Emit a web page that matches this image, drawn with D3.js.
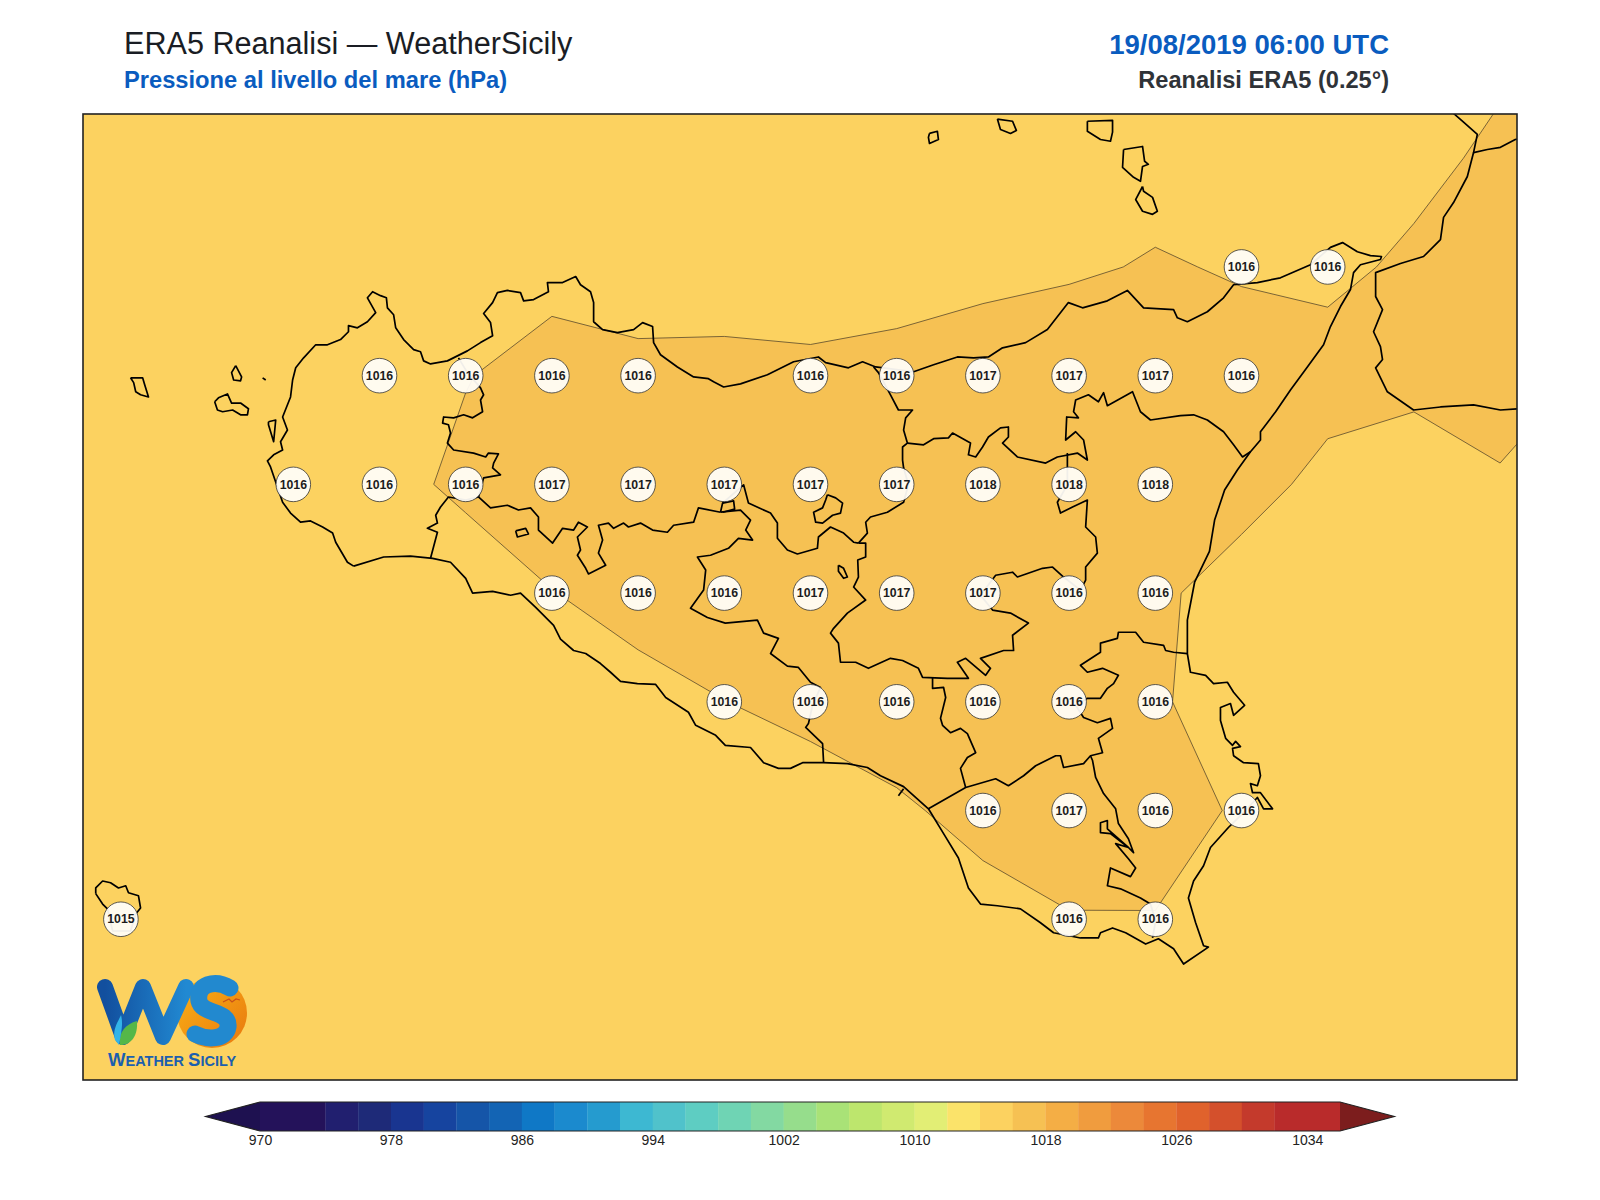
<!DOCTYPE html>
<html>
<head>
<meta charset="utf-8">
<script src="https://cdn.jsdelivr.net/npm/d3@7"></script>
<style>
html, body { margin: 0; padding: 0; background: #fff; }
svg { display: block; }
text { font-family: "Liberation Sans", Arial, sans-serif; }
</style>
</head>
<body>
<svg id="chart" width="1600" height="1200"></svg>
<script>
// pressure on the 0.25 degree grid, hPa, north to south
const gridLons = [11.75, 12, 12.25, 12.5, 12.75, 13, 13.25, 13.5, 13.75, 14, 14.25, 14.5, 14.75, 15, 15.25, 15.5, 15.75, 16, 16.25]
const gridLats = [38.75, 38.5, 38.25, 38, 37.75, 37.5, 37.25, 37, 36.75, 36.5, 36.25]
const row0 = [1015.2, 1015.2, 1015.2, 1015.2, 1015.2, 1015.2, 1015.2, 1015.2, 1015.3, 1015.3, 1015.3, 1015.3, 1015.3, 1015.4, 1015.5, 1015.6, 1015.6, 1015.8, 1016.1]
const row1 = [1015.3, 1015.3, 1015.3, 1015.3, 1015.3, 1015.3, 1015.3, 1015.3, 1015.3, 1015.3, 1015.4, 1015.5, 1015.6, 1015.72, 1015.7, 1015.65, 1015.73, 1016.2, 1016.4]
const row2 = [1015.4, 1015.4, 1015.4, 1015.5, 1015.5, 1015.6, 1015.75, 1015.42, 1015.38, 1014.88, 1015.41, 1015.72, 1015.895, 1016.062, 1015.936, 1015.766, 1016.18, 1016.5, 1016.6]
const row3 = [1015.4, 1015.5, 1015.55, 1015.6, 1015.8, 1015.967, 1016.3, 1016.3, 1016.35, 1016.45, 1016.45, 1016.55, 1016.55, 1016.8, 1016.29, 1016.398, 1016.25, 1016.45, 1015.95]
const row4 = [1015.4, 1015.5, 1015.5, 1015.55, 1015.7, 1016.177, 1016.6, 1016.7, 1016.8, 1016.9, 1017.2, 1017.6, 1017.7, 1017.6, 1016.398, 1015.712, 1015.5, 1015.89, 1015.8]
const row5 = [1015.3, 1015.4, 1015.4, 1015.4, 1015.45, 1015.5, 1015.977, 1016.36, 1016.4, 1016.7, 1016.8, 1016.7, 1016.45, 1016.2, 1015.533, 1015.4, 1015.4, 1015.5, 1015.6]
const row6 = [1015.3, 1015.4, 1015.4, 1015.4, 1015.4, 1015.45, 1015.5, 1015.67, 1015.992, 1016.19, 1016.3, 1016.35, 1016.45, 1016.1, 1015.6, 1015.4, 1015.4, 1015.4, 1015.5]
const row7 = [1015.3, 1015.3, 1015.4, 1015.4, 1015.4, 1015.4, 1015.4, 1015.4, 1015.5, 1015.67, 1015.92, 1016.162, 1016.55, 1016.4, 1015.885, 1015.5, 1015.4, 1015.4, 1015.4]
const row8 = [1015.3, 1015.3, 1015.3, 1015.3, 1015.3, 1015.4, 1015.4, 1015.4, 1015.4, 1015.4, 1015.6, 1015.81, 1015.95, 1015.965, 1015.7, 1015.5, 1015.4, 1015.4, 1015.4]
const row9 = [1015.3, 1015.3, 1015.3, 1015.3, 1015.3, 1015.4, 1015.4, 1015.4, 1015.4, 1015.4, 1015.5, 1015.5, 1015.5, 1015.5, 1015.5, 1015.4, 1015.4, 1015.4, 1015.4]
const row10 = [1015.3, 1015.3, 1015.3, 1015.3, 1015.3, 1015.3, 1015.4, 1015.4, 1015.4, 1015.4, 1015.4, 1015.4, 1015.4, 1015.4, 1015.4, 1015.4, 1015.4, 1015.4, 1015.4]
const pressureRows = [row0, row1, row2, row3, row4, row5, row6, row7, row8, row9, row10]

// grid points that carry a value label, [lon index, lat index]
const labelPoints = [
  [14, 2], [15, 2],
  [4, 3], [5, 3], [6, 3], [7, 3], [9, 3], [10, 3], [11, 3], [12, 3], [13, 3], [14, 3],
  [3, 4], [4, 4], [5, 4], [6, 4], [7, 4], [8, 4], [9, 4], [10, 4], [11, 4], [12, 4], [13, 4],
  [6, 5], [7, 5], [8, 5], [9, 5], [10, 5], [11, 5], [12, 5], [13, 5],
  [8, 6], [9, 6], [10, 6], [11, 6], [12, 6], [13, 6],
  [11, 7], [12, 7], [13, 7], [14, 7],
  [1, 8], [12, 8], [13, 8]
]

// colour bar
const levels = [970, 974, 976, 978, 980, 982, 984, 986, 988, 990, 992, 994, 996, 998, 1000, 1002, 1004, 1006, 1008, 1010, 1012, 1014, 1016, 1018, 1020, 1022, 1024, 1026, 1028, 1030, 1032, 1036]
const bandColors = ['#24125a', '#211f6f', '#1e2a78', '#193590', '#16449f', '#1555a8', '#1364b4', '#0f78c6', '#1b8ace', '#259bcf', '#3db8d2', '#50c2cb', '#5ecdc2', '#6fd4b4', '#83d9a2', '#96dd8c', '#a9e277', '#bde66d', '#d0ea70', '#e2ee75', '#fbe36a', '#fcd260', '#f6c153', '#f4ae45', '#f09c3e', '#ec893a', '#e77530', '#e0622c', '#d4502c', '#c43a2c', '#b92b2b']
const underColor = '#1e1150'
const overColor = '#7c1d1d'
const barTicks = [970, 978, 986, 994, 1002, 1010, 1018, 1026, 1034]

// coastlines, [lon, lat]
const sicilyCoast = [[12.675,37.562],[12.657,37.571],[12.623,37.617],[12.614,37.638],[12.585,37.652],[12.550,37.666],[12.521,37.663],[12.492,37.684],[12.469,37.709],[12.434,37.790],[12.425,37.804],[12.443,37.818],[12.469,37.829],[12.463,37.848],[12.483,37.875],[12.469,37.905],[12.492,37.951],[12.498,37.990],[12.507,38.018],[12.530,38.041],[12.565,38.071],[12.599,38.071],[12.637,38.083],[12.660,38.101],[12.660,38.115],[12.686,38.110],[12.715,38.124],[12.739,38.145],[12.715,38.179],[12.730,38.193],[12.753,38.184],[12.770,38.179],[12.773,38.156],[12.791,38.140],[12.797,38.110],[12.820,38.083],[12.849,38.060],[12.869,38.055],[12.878,38.034],[12.898,38.027],[12.947,38.034],[13.005,38.057],[13.043,38.076],[13.078,38.092],[13.072,38.122],[13.052,38.143],[13.078,38.168],[13.092,38.191],[13.121,38.196],[13.159,38.191],[13.168,38.172],[13.197,38.175],[13.240,38.193],[13.237,38.214],[13.281,38.214],[13.319,38.228],[13.333,38.209],[13.362,38.193],[13.371,38.168],[13.371,38.124],[13.397,38.106],[13.440,38.099],[13.487,38.106],[13.513,38.122],[13.542,38.113],[13.545,38.076],[13.565,38.048],[13.614,38.020],[13.661,37.997],[13.704,37.993],[13.719,37.986],[13.748,37.974],[13.797,37.981],[13.875,38.002],[13.951,38.032],[14.023,38.043],[14.044,38.030],[14.110,38.018],[14.151,38.032],[14.189,38.020],[14.299,38.009],[14.357,38.025],[14.426,38.043],[14.473,38.041],[14.516,38.043],[14.557,38.064],[14.624,38.076],[14.687,38.106],[14.748,38.168],[14.789,38.156],[14.861,38.172],[14.919,38.196],[14.966,38.156],[15.053,38.152],[15.064,38.133],[15.093,38.124],[15.151,38.147],[15.198,38.179],[15.227,38.209],[15.296,38.214],[15.363,38.225],[15.450,38.255],[15.508,38.295],[15.543,38.306],[15.586,38.285],[15.624,38.276],[15.656,38.274],[15.653,38.267],[15.595,38.255],[15.575,38.237],[15.566,38.198],[15.537,38.159],[15.508,38.113],[15.488,38.071],[15.441,38.020],[15.392,37.967],[15.349,37.917],[15.305,37.871],[15.305,37.852],[15.276,37.825],[15.238,37.783],[15.201,37.737],[15.172,37.668],[15.157,37.596],[15.114,37.525],[15.093,37.438],[15.093,37.361],[15.102,37.318],[15.146,37.311],[15.169,37.292],[15.209,37.295],[15.227,37.272],[15.259,37.242],[15.227,37.219],[15.218,37.246],[15.189,37.237],[15.189,37.207],[15.204,37.166],[15.224,37.150],[15.233,37.159],[15.247,37.147],[15.224,37.143],[15.227,37.126],[15.256,37.110],[15.299,37.108],[15.305,37.080],[15.296,37.057],[15.276,37.062],[15.282,37.041],[15.305,37.041],[15.340,37.004],[15.314,37.004],[15.296,37.030],[15.256,36.995],[15.212,36.961],[15.160,36.915],[15.140,36.873],[15.111,36.838],[15.096,36.799],[15.117,36.742],[15.140,36.689],[15.154,36.686],[15.082,36.647],[15.053,36.682],[15.009,36.705],[14.972,36.693],[14.914,36.719],[14.876,36.730],[14.841,36.719],[14.835,36.707],[14.783,36.707],[14.705,36.719],[14.667,36.742],[14.609,36.774],[14.542,36.781],[14.493,36.785],[14.458,36.822],[14.429,36.891],[14.386,36.947],[14.342,37.004],[14.270,37.055],[14.203,37.080],[14.165,37.099],[14.107,37.108],[14.038,37.110],[13.977,37.110],[13.942,37.097],[13.907,37.097],[13.864,37.110],[13.826,37.145],[13.753,37.150],[13.725,37.173],[13.667,37.196],[13.646,37.226],[13.580,37.260],[13.551,37.290],[13.498,37.292],[13.449,37.297],[13.420,37.318],[13.391,37.338],[13.348,37.361],[13.313,37.368],[13.275,37.394],[13.255,37.426],[13.203,37.467],[13.159,37.500],[13.130,37.495],[13.078,37.504],[13.020,37.500],[13.000,37.534],[12.956,37.571],[12.904,37.580],[12.840,37.585],[12.762,37.583],[12.675,37.562]]
const calabriaCoast = [[15.827,38.636],[15.865,38.603],[15.894,38.583],[15.934,38.555],[15.923,38.513],[15.905,38.458],[15.865,38.398],[15.836,38.364],[15.827,38.313],[15.778,38.274],[15.711,38.258],[15.639,38.237],[15.639,38.182],[15.659,38.152],[15.633,38.101],[15.653,38.067],[15.659,38.037],[15.639,38.018],[15.673,37.963],[15.749,37.921],[15.827,37.928],[15.923,37.933],[16.001,37.921],[16.088,37.926]]
const calabriaBorder = [[15.923,38.513],[15.963,38.520],[16.001,38.525],[16.044,38.543],[16.088,38.553]]
const marettimo = [[12.028,37.995],[12.063,37.995],[12.069,37.979],[12.080,37.951],[12.057,37.956],[12.043,37.963],[12.037,37.984],[12.028,37.995]]
const levanzo = [[12.333,38.023],[12.350,37.997],[12.347,37.988],[12.327,37.990],[12.321,38.007],[12.333,38.023]]
const favignana = [[12.272,37.940],[12.283,37.949],[12.309,37.958],[12.321,37.937],[12.347,37.937],[12.370,37.924],[12.367,37.910],[12.347,37.910],[12.324,37.921],[12.295,37.917],[12.280,37.921],[12.272,37.940]]
const ustica = [[14.345,38.557],[14.368,38.562],[14.371,38.543],[14.345,38.534],[14.342,38.548],[14.345,38.557]]
const filicudi = [[14.542,38.590],[14.586,38.585],[14.597,38.564],[14.580,38.557],[14.551,38.566],[14.542,38.590]]
const salina = [[14.803,38.585],[14.876,38.587],[14.876,38.560],[14.870,38.539],[14.841,38.543],[14.803,38.562],[14.803,38.585]]
const lipari = [[14.908,38.520],[14.963,38.527],[14.969,38.493],[14.980,38.486],[14.963,38.481],[14.957,38.447],[14.937,38.456],[14.905,38.479],[14.908,38.520]]
const vulcano = [[14.963,38.435],[14.966,38.424],[14.992,38.410],[15.006,38.378],[14.992,38.371],[14.963,38.378],[14.943,38.405],[14.963,38.435]]
const pantelleria = [[11.927,36.809],[11.927,36.822],[11.947,36.838],[11.970,36.834],[11.993,36.822],[12.014,36.827],[12.022,36.811],[12.051,36.804],[12.057,36.776],[12.043,36.762],[12.028,36.723],[11.976,36.723],[11.961,36.774],[11.947,36.785],[11.927,36.809]]
const stagnone = [[12.428,37.894],[12.449,37.898],[12.443,37.848],[12.428,37.887],[12.428,37.894]]
const speck = [[12.411,37.995],[12.420,37.990]]

// province borders and lakes
const borderTpPa = [[12.979,38.041],[13.005,38.007],[13.043,37.972],[13.052,37.956],[13.043,37.944],[13.049,37.917],[13.020,37.903],[12.994,37.910],[12.965,37.903],[12.936,37.905],[12.933,37.891],[12.950,37.887],[12.956,37.868],[12.947,37.845],[12.965,37.829],[13.023,37.822],[13.058,37.813],[13.066,37.822],[13.095,37.820],[13.081,37.799],[13.078,37.788],[13.101,37.772],[13.052,37.765],[13.037,37.721]]
const borderTpAg = [[13.037,37.721],[13.000,37.714],[12.950,37.721],[12.927,37.698],[12.913,37.679],[12.918,37.661],[12.889,37.649],[12.918,37.640],[12.898,37.580]]
const borderPaAg = [[13.037,37.721],[13.072,37.696],[13.121,37.702],[13.153,37.691],[13.188,37.696],[13.211,37.675],[13.211,37.645],[13.252,37.615],[13.281,37.649],[13.313,37.645],[13.327,37.663],[13.353,37.652],[13.324,37.629],[13.333,37.599],[13.324,37.587],[13.348,37.557],[13.356,37.544],[13.406,37.564],[13.385,37.592],[13.397,37.622],[13.385,37.656],[13.414,37.661],[13.429,37.649],[13.458,37.661],[13.472,37.652],[13.507,37.661],[13.542,37.645],[13.585,37.640],[13.603,37.656],[13.661,37.663],[13.675,37.696],[13.739,37.686]]
const borderAgCl = [[13.739,37.686],[13.797,37.691],[13.826,37.668],[13.812,37.645],[13.832,37.622],[13.791,37.626],[13.762,37.603],[13.710,37.587],[13.672,37.583],[13.696,37.553],[13.690,37.507],[13.652,37.465],[13.701,37.444],[13.753,37.431],[13.846,37.438],[13.864,37.408],[13.907,37.396],[13.884,37.361],[13.933,37.332],[13.965,37.329],[14.000,37.295],[14.029,37.283],[14.006,37.242],[13.994,37.200],[13.986,37.191],[14.035,37.154],[14.038,37.110]]
const borderPaCl = [[13.739,37.686],[13.745,37.707],[13.806,37.749],[13.820,37.707],[13.884,37.684],[13.904,37.661],[13.904,37.626],[13.933,37.599],[13.962,37.590],[14.020,37.603],[14.023,37.629],[14.058,37.652],[14.096,37.638],[14.125,37.617],[14.139,37.615]]
const clLoop = [[13.745,37.707],[13.777,37.712],[13.780,37.693],[13.745,37.686]]
const borderPaEast = [[14.183,38.020],[14.197,38.007],[14.232,37.956],[14.255,37.921],[14.296,37.921],[14.276,37.903],[14.270,37.875],[14.281,37.845],[14.267,37.836],[14.267,37.806],[14.270,37.788],[14.284,37.749],[14.270,37.709],[14.223,37.686],[14.174,37.675],[14.160,37.663],[14.165,37.638],[14.139,37.615]]
const borderEnna = [[14.139,37.615],[14.160,37.615],[14.160,37.583],[14.137,37.576],[14.139,37.537],[14.125,37.514],[14.160,37.484],[14.107,37.454],[14.067,37.419],[14.058,37.408],[14.081,37.385],[14.087,37.341],[14.131,37.341],[14.168,37.327],[14.232,37.350],[14.267,37.345],[14.313,37.327],[14.325,37.306],[14.397,37.304],[14.458,37.304],[14.426,37.341],[14.450,37.350],[14.508,37.311],[14.522,37.327],[14.493,37.350],[14.560,37.368],[14.589,37.368],[14.586,37.403],[14.632,37.431],[14.580,37.454],[14.528,37.461],[14.493,37.495],[14.537,37.541],[14.586,37.548],[14.600,37.537],[14.673,37.557],[14.702,37.560],[14.734,37.537],[14.783,37.507],[14.798,37.530],[14.798,37.560],[14.832,37.592],[14.827,37.629],[14.798,37.652],[14.803,37.714],[14.760,37.698],[14.725,37.684],[14.716,37.709],[14.745,37.749],[14.745,37.790],[14.745,37.822]]
const borderMessina = [[14.281,37.845],[14.328,37.841],[14.357,37.855],[14.400,37.857],[14.412,37.868],[14.464,37.845],[14.458,37.818],[14.479,37.813],[14.499,37.836],[14.516,37.859],[14.551,37.880],[14.574,37.882],[14.574,37.859],[14.557,37.845],[14.600,37.813],[14.682,37.799],[14.716,37.813],[14.774,37.822],[14.803,37.806],[14.792,37.852],[14.769,37.871],[14.740,37.852],[14.743,37.905],[14.777,37.903],[14.763,37.917],[14.769,37.944],[14.806,37.956],[14.835,37.940],[14.850,37.961],[14.861,37.931],[14.934,37.963],[14.957,37.917],[14.986,37.898],[15.073,37.908],[15.111,37.910],[15.151,37.898],[15.198,37.871],[15.227,37.841],[15.253,37.813],[15.276,37.825]]
const borderCtSr = [[15.093,37.361],[15.053,37.364],[15.030,37.368],[15.024,37.380],[14.966,37.387],[14.943,37.410],[14.893,37.410],[14.890,37.396],[14.841,37.385],[14.841,37.364],[14.783,37.334],[14.803,37.318],[14.847,37.327],[14.893,37.311],[14.879,37.292],[14.861,37.281],[14.841,37.258],[14.803,37.258],[14.769,37.242],[14.792,37.214],[14.832,37.202],[14.870,37.212],[14.876,37.189],[14.835,37.166],[14.847,37.133],[14.812,37.126],[14.792,37.108],[14.734,37.099],[14.725,37.126],[14.711,37.126],[14.653,37.103],[14.618,37.080],[14.574,37.057],[14.537,37.073],[14.450,37.053],[14.342,37.004]]
const borderClCt = [[14.450,37.053],[14.435,37.097],[14.455,37.122],[14.479,37.133],[14.455,37.177],[14.435,37.189],[14.406,37.179],[14.383,37.196],[14.377,37.212],[14.392,37.260],[14.386,37.283],[14.354,37.281],[14.354,37.306]]
const borderRgSr = [[14.812,37.126],[14.818,37.115],[14.827,37.076],[14.850,37.039],[14.885,37.004],[14.893,36.970],[14.922,36.935],[14.937,36.903],[14.922,36.915],[14.870,36.947],[14.841,36.949],[14.841,36.972],[14.861,36.977],[14.861,36.958],[14.922,36.915],[14.885,36.924],[14.922,36.889],[14.943,36.868],[14.928,36.848],[14.870,36.868],[14.861,36.827],[14.899,36.820],[14.957,36.799],[14.986,36.785],[15.001,36.746],[14.992,36.707]]
const gelaTick = [[14.255,37.034],[14.270,37.050]]
const lakeEnna = [[14.081,37.564],[14.096,37.557],[14.107,37.537],[14.096,37.534],[14.081,37.550],[14.081,37.564]]
const lakePalermo = [[14.049,37.726],[14.073,37.719],[14.093,37.707],[14.087,37.684],[14.064,37.679],[14.035,37.661],[14.015,37.663],[14.009,37.686],[14.035,37.696],[14.044,37.714],[14.049,37.726]]
const lakeTrapani = [[13.145,37.643],[13.174,37.649],[13.182,37.636],[13.150,37.629],[13.145,37.643]]

const mapLines = [sicilyCoast, calabriaCoast, calabriaBorder, marettimo, levanzo, favignana, ustica, filicudi, salina, lipari, vulcano, pantelleria, stagnone, speck, borderTpPa, borderTpAg, borderPaAg, borderAgCl, borderPaCl, clLoop, borderPaEast, borderEnna, borderMessina, borderCtSr, borderClCt, borderRgSr, gelaTick, lakeEnna, lakePalermo, lakeTrapani]

const svg = d3.select('#chart')
const frame = {left: 83, top: 114, right: 1517, bottom: 1080}

const x = d3.scaleLinear().domain([11.75, 16.25]).range([34.7, 1586.3])
const y = d3.scaleLinear().domain([38.75, 36.25]).range([49.5, 1136.7])
const color = d3.scaleThreshold().domain(levels.slice(1, -1)).range(bandColors)

svg.append('clipPath').attr('id', 'mapClip')
  .append('rect')
  .attr('x', frame.left)
  .attr('y', frame.top)
  .attr('width', frame.right - frame.left)
  .attr('height', frame.bottom - frame.top)

const map = svg.append('g').attr('clip-path', 'url(#mapClip)')

// sea level pressure bands
const nx = gridLons.length, ny = gridLats.length
const values = pressureRows.flat()
const minBand = d3.min(values)

map.append('rect')
  .attr('x', frame.left)
  .attr('y', frame.top)
  .attr('width', frame.right - frame.left)
  .attr('height', frame.bottom - frame.top)
  .attr('fill', color(minBand))

const contours = d3.contours().size([nx, ny]).thresholds([1016])(values)
const gridPath = d3.geoPath(d3.geoTransform({
  point: function (gx, gy) {
    this.stream.point(x(gridLons[0] + (gx - 0.5) * 0.25), y(gridLats[0] - (gy - 0.5) * 0.25))
  }
}))

map.selectAll('path.band')
  .data(contours)
  .enter()
  .append('path')
  .attr('class', 'band')
  .attr('d', gridPath)
  .attr('fill', d => color(d.value))
  .attr('stroke', '#5b4a2c')
  .attr('stroke-width', 0.8)

// coast and provinces
const line = d3.line().x(d => x(d[0])).y(d => y(d[1]))

map.selectAll('path.coast')
  .data(mapLines)
  .enter()
  .append('path')
  .attr('class', 'coast')
  .attr('d', line)
  .attr('fill', 'none')
  .attr('stroke', '#000')
  .attr('stroke-width', 1.7)
  .attr('stroke-linejoin', 'round')

// value labels
const labels = map.selectAll('g.label')
  .data(labelPoints)
  .enter()
  .append('g')
  .attr('class', 'label')
  .attr('transform', d => 'translate(' + x(gridLons[d[0]]) + ',' + y(gridLats[d[1]]) + ')')

labels.append('circle')
  .attr('r', 17.3)
  .attr('fill', '#fffdf8')
  .attr('fill-opacity', 0.94)
  .attr('stroke', '#333')
  .attr('stroke-width', 0.8)

labels.append('text')
  .attr('text-anchor', 'middle')
  .attr('y', 4.2)
  .attr('font-size', 12.3)
  .attr('font-weight', 'bold')
  .attr('fill', '#1c1c1c')
  .text(d => Math.round(pressureRows[d[1]][d[0]]))

// logo
const logo = map.append('g')
const defs = svg.append('defs')
const wGrad = defs.append('linearGradient').attr('id', 'wGrad').attr('x1', 0).attr('x2', 1).attr('y1', 0).attr('y2', 0)
wGrad.append('stop').attr('offset', '0%').attr('stop-color', '#124f9e')
wGrad.append('stop').attr('offset', '100%').attr('stop-color', '#2189d2')
const sunGrad = defs.append('linearGradient').attr('id', 'sunGrad').attr('x1', 0).attr('x2', 1).attr('y1', 0).attr('y2', 1)
sunGrad.append('stop').attr('offset', '0%').attr('stop-color', '#fbb416')
sunGrad.append('stop').attr('offset', '100%').attr('stop-color', '#e8770f')

logo.append('circle').attr('cx', 212).attr('cy', 1013).attr('r', 35).attr('fill', 'url(#sunGrad)')
logo.append('path')
  .attr('d', 'M105,987 L123,1037 L143,987 L163,1037 L186,987')
  .attr('fill', 'none')
  .attr('stroke', 'url(#wGrad)')
  .attr('stroke-width', 16)
  .attr('stroke-linejoin', 'round')
  .attr('stroke-linecap', 'round')
logo.append('path')
  .attr('d', 'M230,988 C215,979 196,984 199,1001 C202,1015 230,1010 228,1027 C226,1040 207,1040 195,1034')
  .attr('fill', 'none')
  .attr('stroke', '#2289cf')
  .attr('stroke-width', 17)
  .attr('stroke-linecap', 'round')
logo.append('path').attr('d', 'M120,1045 C118,1032 126,1024 137,1021 C138,1035 132,1045 120,1045 Z').attr('fill', '#55b748')
logo.append('path').attr('d', 'M115,1040 C112,1030 118,1022 121,1015 C123,1022 122,1030 119,1045 Z').attr('fill', '#33b4e8')
logo.append('path').attr('d', 'M223,1002 L229,999 L232,1002 L236,999 L240,1000').attr('fill', 'none').attr('stroke', '#c8501a').attr('stroke-width', 1.2)
const logoText = logo.append('text')
  .attr('x', 108)
  .attr('y', 1066)
  .attr('font-weight', 'bold')
  .attr('fill', '#1c5fae')
logoText.append('tspan').attr('font-size', 18.5).text('W')
logoText.append('tspan').attr('font-size', 14.5).text('EATHER ')
logoText.append('tspan').attr('font-size', 18.5).text('S')
logoText.append('tspan').attr('font-size', 14.5).text('ICILY')

// frame
svg.append('rect')
  .attr('x', frame.left)
  .attr('y', frame.top)
  .attr('width', frame.right - frame.left)
  .attr('height', frame.bottom - frame.top)
  .attr('fill', 'none')
  .attr('stroke', '#222')
  .attr('stroke-width', 1.6)

// titles
svg.append('text').attr('x', 124).attr('y', 54).attr('font-size', 30.6).attr('fill', '#1a1d24').text('ERA5 Reanalisi — WeatherSicily')
svg.append('text').attr('x', 124).attr('y', 88).attr('font-size', 23.7).attr('font-weight', 'bold').attr('fill', '#0a5cbf').text('Pressione al livello del mare (hPa)')
svg.append('text').attr('x', 1389).attr('y', 54).attr('text-anchor', 'end').attr('font-size', 27.5).attr('font-weight', 'bold').attr('fill', '#0a5cbf').text('19/08/2019 06:00 UTC')
svg.append('text').attr('x', 1389).attr('y', 88).attr('text-anchor', 'end').attr('font-size', 23.6).attr('font-weight', 'bold').attr('fill', '#2f3338').text('Reanalisi ERA5 (0.25°)')

// colour bar
const barX = d3.scaleLinear().domain([970, 1036]).range([260, 1340])
const barTop = 1102, barBottom = 1131, barTip = 54.5
const bar = svg.append('g')
bar.selectAll('rect')
  .data(bandColors)
  .enter()
  .append('rect')
  .attr('x', (d, i) => barX(levels[i]))
  .attr('y', barTop)
  .attr('width', (d, i) => barX(levels[i + 1]) - barX(levels[i]) + 0.3)
  .attr('height', barBottom - barTop)
  .attr('fill', d => d)

const barMid = (barTop + barBottom) / 2
bar.append('path')
  .attr('d', d3.line()([[barX(970), barTop], [barX(970) - barTip, barMid], [barX(970), barBottom]]))
  .attr('fill', underColor)
bar.append('path')
  .attr('d', d3.line()([[barX(1036), barTop], [barX(1036) + barTip, barMid], [barX(1036), barBottom]]))
  .attr('fill', overColor)
bar.append('path')
  .attr('d', d3.line()([[barX(970), barTop], [barX(1036), barTop], [barX(1036) + barTip, barMid], [barX(1036), barBottom], [barX(970), barBottom], [barX(970) - barTip, barMid]]) + 'Z')
  .attr('fill', 'none')
  .attr('stroke', '#222')
  .attr('stroke-width', 1.1)

const barAxis = svg.append('g')
  .attr('transform', 'translate(0,' + barBottom + ')')
  .call(d3.axisBottom(barX).tickValues(barTicks).tickSize(0).tickPadding(4).tickFormat(d3.format('d')))
barAxis.select('.domain').remove()
barAxis.selectAll('text')
  .attr('font-size', 14)
  .attr('font-family', '"Liberation Sans", Arial, sans-serif')
  .attr('fill', '#222')
</script>
</body>
</html>
